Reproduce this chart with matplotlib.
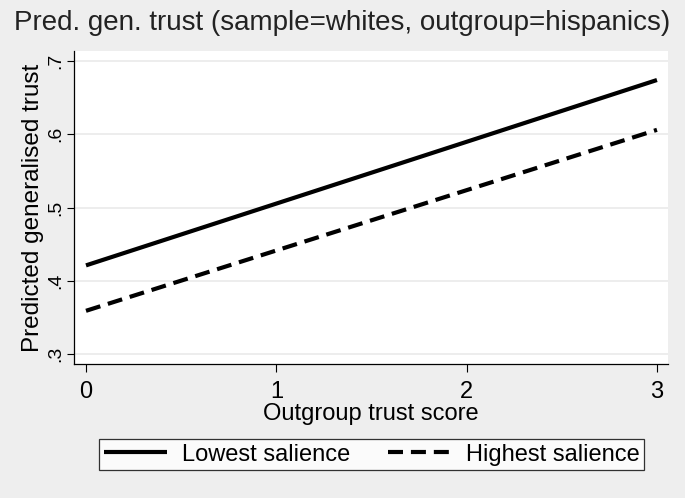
import numpy as np
import matplotlib.pyplot as plt

plt.rcParams['font.family'] = ['Liberation Sans', 'DejaVu Sans']

# ── Data (predicted values at the ends of each line) ──────────────────────────
x_vals = [0, 3]
lowest = [0.421, 0.674]
highest = [0.359, 0.606]

x_ticks = [0, 1, 2, 3]
y_ticks = [0.3, 0.4, 0.5, 0.6, 0.7]
y_labels = [".3", ".4", ".5", ".6", ".7"]

bg = "#eeeeee"
fig = plt.figure(figsize=(6.85, 4.98), dpi=100)
fig.patch.set_facecolor(bg)
ax = fig.add_axes([74 / 685, 1 - 364 / 498, (668 - 74) / 685, (364 - 51) / 498])
ax.set_facecolor("white")

ax.plot(x_vals, lowest, color="black", lw=3, solid_capstyle="butt",
        label="Lowest salience")
ax.plot(x_vals, highest, color="black", lw=3, dashes=(3.6, 1.9),
        dash_capstyle="butt", label="Highest salience")

ax.set_xlim(-0.063, 3.058)
ax.set_ylim(0.2864, 0.7136)
ax.set_xticks(x_ticks)
ax.set_yticks(y_ticks)
ax.set_yticklabels(y_labels, rotation=90, va="center")
ax.grid(axis="y", color="#eaeaea", lw=1.2)
ax.set_axisbelow(True)

for s in ["top", "right"]:
    ax.spines[s].set_visible(False)
for s in ["left", "bottom"]:
    ax.spines[s].set_color("black")
    ax.spines[s].set_linewidth(0.9)
ax.tick_params(axis="both", width=0.8, color="black")
ax.tick_params(axis="x", length=6, pad=6, labelsize=17)
ax.tick_params(axis="y", length=5, pad=2, labelsize=14)

ax.set_xlabel("Outgroup trust score", fontsize=17, labelpad=0)
ax.set_ylabel("Predicted generalised trust", fontsize=17.5, labelpad=2)
fig.text(0.5, 1 - 23 / 498, "Pred. gen. trust (sample=whites, outgroup=hispanics)",
         ha="center", va="center", fontsize=20, color="#222222")

leg = fig.legend(loc="center", bbox_to_anchor=(371.5 / 685, 1 - 454.5 / 498),
                 ncol=2, fontsize=17, frameon=True, fancybox=False,
                 handlelength=2.7, columnspacing=1.6, handletextpad=0.6,
                 borderpad=0.2, borderaxespad=0)
leg.get_frame().set_edgecolor("black")
leg.get_frame().set_linewidth(0.9)
leg.get_frame().set_facecolor("white")

fig.savefig("out.png", dpi=100, facecolor=bg)
